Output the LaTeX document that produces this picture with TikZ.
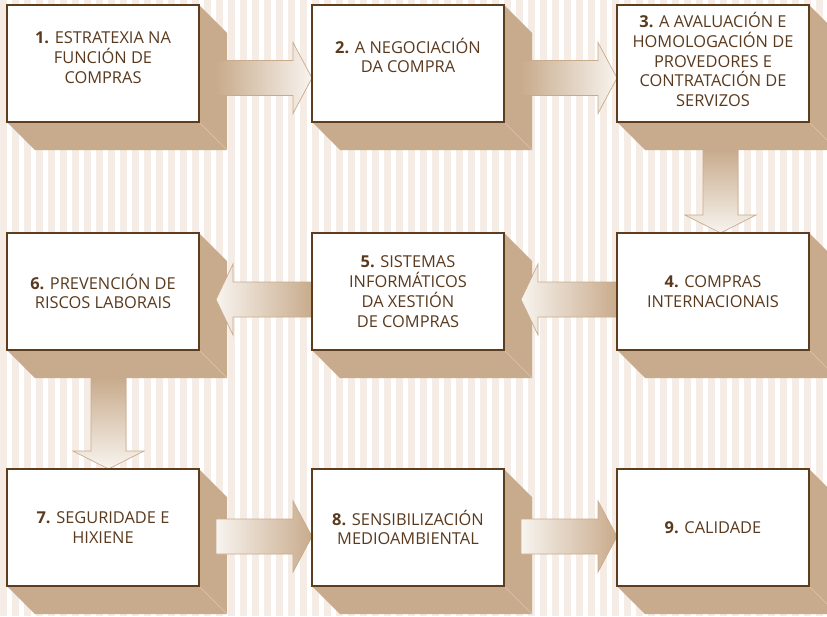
\documentclass[tikz,border=0pt]{standalone}
\usepackage{fontspec}
\setmainfont{Open Sans}
\usetikzlibrary{calc}
\usetikzlibrary{positioning}
\pgfdeclarelayer{stripes}
\pgfdeclarelayer{depth}
\pgfsetlayers{stripes,depth,main}
\definecolor{stripe}{HTML}{F4ECE5}
\definecolor{tan}{HTML}{C8AB8C}
\definecolor{bevelcol}{HTML}{DCC6AF}
\definecolor{frame}{HTML}{5E3C1E}
\definecolor{ink}{HTML}{5A3A1E}
\definecolor{pale}{HTML}{F8F4EF}
\tikzset{box/.style = {draw=frame, line width=1.1pt, fill=white, outer sep=0,
                       minimum width=192pt, minimum height=117pt, inner sep=0}}
\tikzset{boxtext/.style = {text=ink, align=center, inner sep=0,
                           font=\fontsize{16.4}{19.8}\selectfont}}
\tikzset{slab/.style = {fill=tan}}
\tikzset{bevel/.style = {draw=bevelcol, line width=0.6pt}}
\tikzset{flow/.style = {draw=tan, line width=0.7pt}}
% one slab under each box, 28 deep
\newcommand\slab[1]{%
  \fill[slab] (#1.north east) -- ++(28,28) -- ($(#1.south east)+(28,28)$)
    -- ($(#1.south west)+(28,28)$) -- (#1.south west) -- (#1.south east) -- cycle;
  \draw[bevel] (#1.south east) -- ++(28,28);}
% block arrows: from, to, offset, colours
\newcommand\flowright[4]{%
  \draw[flow, #4] ($(#1.east)+(17,#3-17.5)$) -- ++(77,0) -- ++(0,-18)
    -- ($(#2.west)+(0,#3)$) -- ++(-19,35.5) -- ++(0,-18)
    -- ($(#1.east)+(17,#3+17.5)$) -- cycle;}
\newcommand\flowleft[4]{%
  \draw[flow, #4] ($(#1.west)+(0,#3-17.5)$) -- ($(#2.east)+(34,#3-17.5)$) -- ++(0,-18)
    -- ($(#2.east)+(17,#3)$) -- ++(17,35.5) -- ++(0,-18)
    -- ($(#1.west)+(0,#3+17.5)$) -- cycle;}
\newcommand\flowdown[3]{%
  \draw[flow, top color=tan, bottom color=pale] ($(#1.south)+(#3-17.5,28)$)
    -- ($(#2.north)+(#3-17.5,-18)$) -- ++(-18,0) -- ($(#2.north)+(#3,0)$)
    -- ++(35.5,-18) -- ++(-18,0) -- ($(#1.south)+(#3+17.5,28)$) -- cycle;}

\begin{document}
\begin{tikzpicture}[x=1pt, y=-1pt]
  \useasboundingbox (0,0) rectangle (827,616);
  \begin{pgfonlayer}{stripes}
    \fill[white] (0,0) rectangle (827,616);
    \foreach \x in {0,12,...,828}
      \fill[stripe] (\x,0) rectangle ++(7,616);
  \end{pgfonlayer}

  \node[box] (b1) at (103,63.5) {};
  \node[box, right=113pt of b1] (b2) {};
  \node[box, right=113pt of b2] (b3) {};
  \node[box, below=111pt of b3] (b4) {};
  \node[box, left=113pt of b4] (b5) {};
  \node[box, left=113pt of b5] (b6) {};
  \node[box, below=119pt of b6] (b7) {};
  \node[box, right=113pt of b7] (b8) {};
  \node[box, right=113pt of b8] (b9) {};

  \node[boxtext] (t1) at ($(b1.center)+(0,-6)$) {\textbf{1.} ESTRATEXIA NA\\FUNCIÓN DE\\COMPRAS};
  \node[boxtext] (t2) at ($(b2.center)+(0,-8)$) {\textbf{2.} A NEGOCIACIÓN\\DA COMPRA};
  \node[boxtext] (t3) at ($(b3.center)+(0,-4)$) {\textbf{3.} A AVALUACIÓN E\\HOMOLOGACIÓN DE\\PROVEDORES E\\CONTRATACIÓN DE\\SERVIZOS};
  \node[boxtext] (t4) at (b4.center) {\textbf{4.} COMPRAS\\INTERNACIONAIS};
  \node[boxtext] (t5) at (b5.center) {\textbf{5.} SISTEMAS\\INFORMÁTICOS\\DA XESTIÓN\\DE COMPRAS};
  \node[boxtext] (t6) at (b6.center) {\textbf{6.} PREVENCIÓN DE\\RISCOS LABORAIS};
  \node[boxtext] (t7) at (b7.center) {\textbf{7.} SEGURIDADE E\\HIXIENE};
  \node[boxtext] (t8) at (b8.center) {\textbf{8.} SENSIBILIZACIÓN\\MEDIOAMBIENTAL};
  \node[boxtext] (t9) at (b9.center) {\textbf{9.} CALIDADE};

  \begin{pgfonlayer}{depth}
    \foreach \b in {b1,b2,b3,b4,b5,b6,b7,b8,b9}
      {\slab{\b}}
    \flowright{b1}{b2}{14.5}{left color=tan, right color=pale}
    \flowright{b2}{b3}{14.5}{left color=tan, right color=pale}
    \flowdown{b3}{b4}{7.5}
    \flowleft{b4}{b5}{8}{left color=pale, right color=tan}
    \flowleft{b5}{b6}{8}{left color=pale, right color=tan}
    \flowdown{b6}{b7}{5.5}
    \flowright{b7}{b8}{9}{left color=pale, right color=tan}
    \flowright{b8}{b9}{9}{left color=pale, right color=tan}
  \end{pgfonlayer}
\end{tikzpicture}
\end{document}
